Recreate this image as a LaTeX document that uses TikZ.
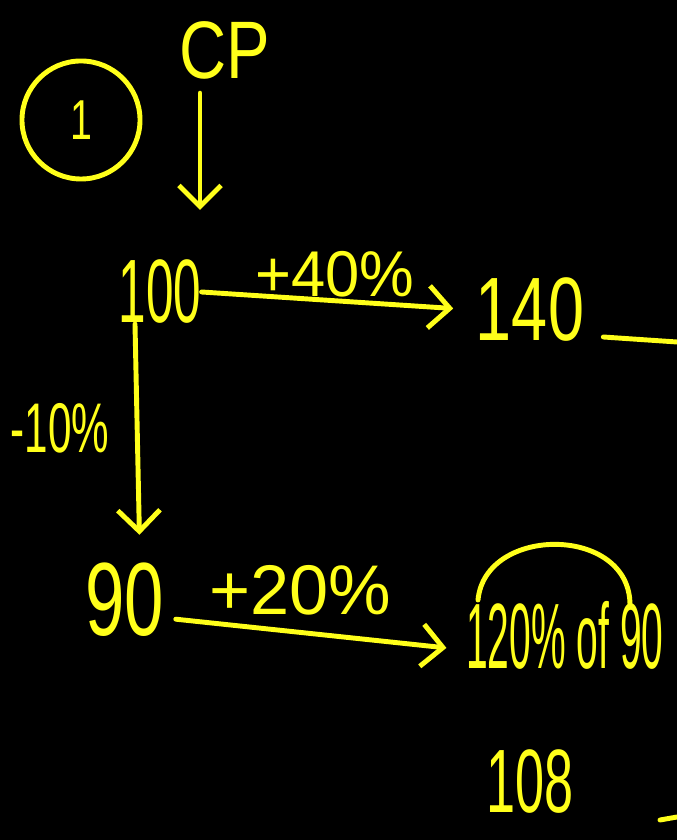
\documentclass[tikz,border=0pt]{standalone}
\usepackage{fontspec}
\setmainfont{Liberation Sans}
\usepackage{graphicx}
\usetikzlibrary{arrows.meta,positioning}
\definecolor{ink}{HTML}{FFFF1A}
\definecolor{board}{HTML}{000000}
\newcommand{\hw}[2]{\scalebox{#1}[1]{#2}}

\begin{document}
\begin{tikzpicture}[x=0.025cm,y=0.025cm,
  num/.style={text=ink,inner sep=0pt},
  big/.style={num,font=\fontsize{64}{64}\selectfont},
  small/.style={num,font=\fontsize{46}{46}\selectfont},
  stroke/.style={ink,line width=3.5pt,line cap=round,line join=round},
  arr/.style={stroke,-{Straight Barb[length=15pt,width=30pt]}}]
\useasboundingbox (0,0) rectangle (677,840);
\fill[board] (0,0) rectangle (677,840);
\clip (0,0) rectangle (677,840);
% the problem number
\node[circle,draw=ink,line width=3.5pt,minimum size=2.95cm,inner sep=0pt,text=ink,font=\fontsize{40}{40}\selectfont] (one) at (81,720) {\hw{0.7}{1}};
\node[num,font=\fontsize{58}{58}\selectfont] (cp) at (225,790) {\hw{0.8}{CP}};
\coordinate (cpend) at (200,630);
% prices
\node[big] (h100) at (160,548) {\hw{0.55}{100}};
\node[big] (h140) at (530,530) {\hw{0.72}{140}};
\node[big,font=\fontsize{74}{74}\selectfont] (h90) at (125,240) {\hw{0.68}{90}};
\node[big,font=\fontsize{66}{66}\selectfont,anchor=west] (targ) at (466,205) {\hw{0.42}{120\% of 90}};
\node[big] (h108) at (530,58) {\hw{0.58}{108}};
% changes
\node[small] (lab40) at (335,566) {\hw{0.95}{+40\%}};
\node[small,font=\fontsize{50}{50}\selectfont] (lab10) at (60,412) {\hw{0.6}{-10\%}};
\node[small,font=\fontsize{50}{50}\selectfont] (lab20) at (300,250) {\hw{1.0}{+20\%}};
\draw[arr,shorten <=10pt] (cp.south -| cpend) -- (cpend);
\draw[arr,shorten >=16pt] (h100.east) -- (h140.west);
\draw[arr,shorten >=20pt] ([xshift=-6.25mm]h100.south) -- ([xshift=3.75mm]h90.north);
\draw[arr,shorten <=8pt,shorten >=14pt] ([yshift=-4.5mm]h90.east) -- ([yshift=-3.75mm]targ.west);
% marks running off the board
\coordinate (arcL) at (478,240);
\coordinate (arcR) at (630,235);
\draw[stroke] (arcL) .. controls (485,315) and (630,315) .. (arcR);
\coordinate (edgeA) at (677,498);
\draw[stroke] ([xshift=4.75mm,yshift=-6.75mm]h140.east) -- (edgeA);
\coordinate (edgeB1) at (660,20);
\coordinate (edgeB2) at (677,23);
\draw[stroke] (edgeB1) -- (edgeB2);
\end{tikzpicture}
\end{document}
